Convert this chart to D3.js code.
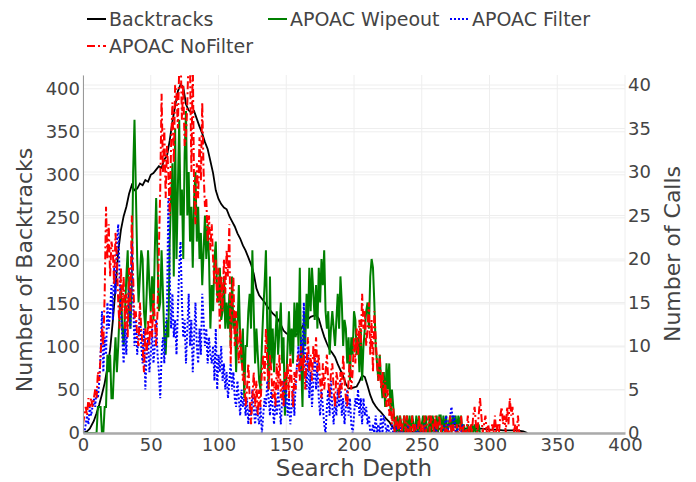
<!DOCTYPE html>
<html>
<head>
<meta charset="utf-8">
<script src="https://cdn.jsdelivr.net/npm/d3@7"></script>
<style>
  body { margin: 0; background: #fff; }
  text { font-family: "DejaVu Sans", sans-serif; fill: #444; }
</style>
</head>
<body>
<div id="chart"></div>
<script>
// Backtracks (left axis), sampled along the search depth
const backtrackDepths = [0,3,5,8,10,12,14,16,18,20,22,24,26,28,30,32,34,36,38,40,42,44,46,48,50,52,54,56,58,60,62,64,66,68,70,72,74,76,78,80,82,84,86,88,90,92,94,96,98,100,102,104,106,108,110,112,114,116,118,120,122,124,126,128,130,132,134,136,138,140,142,144,146,148,150,152,154,156,158,160,162,164,166,168,170,172,174,176,178,180,182,184,186,188,190,192,194,196,198,200,202,204,206,208,210,212,214,216,218,220,222,224,226,228,230,235,240,245,250,255,260,265,270,275,280,285,290,295,300,305,310,315,320,325,328];
const backtracks = [0,2,5,14,23,33,45,58,76,97,130,168,211,236,252,263,278,288,282,284,290,288,294,292,300,302,306,310,308,318,322,340,362,380,397,405,402,382,375,372,374,365,356,348,338,330,316,302,282,272,266,262,260,252,246,240,232,226,218,212,204,196,185,168,160,156,152,147,143,139,136,132,126,119,116,114,114,113,115,119,124,128,132,135,136,137,133,122,112,104,97,93,88,80,73,66,57,52,52,53,54,60,67,65,55,44,36,31,27,24,20,16,13,8,4,2,2,1,2,2,3,6,9,10,6,4,5,5,4,4,3,3,3,2,0];

// Number of calls (right axis), one value per depth starting at depth 0
const wipeout = [
  0,0,0,0,0,0,0,0,0,0,
  0,3,3,3,0,0,3,3,9,7,
  9,4,4,8,11,7,10,14,17,12,
  10,14,18,21,14,12,17,30,36,28,
  20,15,18,21,20,14,12,16,21,17,
  14,18,13,21,27,20,14,15,21,16,
  11,9,13,11,22,27,31,18,35,20,
  28,36,25,28,20,32,37,25,30,22,
  26,19,27,30,22,26,20,23,17,21,
  25,20,24,20,12,17,14,20,22,16,
  15,19,13,14,18,12,15,12,16,10,
  18,12,14,7,12,17,11,8,12,4,
  10,10,14,16,12,21,14,8,12,9,
  6,5,10,14,17,21,12,5,18,8,
  12,7,11,14,9,12,15,8,11,2,
  6,10,14,9,12,8,15,11,15,10,
  19,8,3,14,10,16,12,19,14,19,
  16,13,17,12,19,15,20,17,21,14,
  12,14,9,12,14,12,10,13,16,12,
  18,15,10,13,12,8,11,6,11,9,
  14,13,9,11,7,12,6,10,12,14,
  15,12,18,20,19,15,10,8,6,9,
  6,4,7,3,8,5,8,2,5,3,
  1,0,2,0,2,1,0,2,0,2,
  0,2,0,2,1,0,2,0,2,0,
  1,2,0,2,0,0,2,0,2,1,
  0,2,0,2,2,0,2,0,2,0,
  1,2,0,2,1,2,0,2,1,2,
  0,1,0,0,1,0,0,1,0,1,
  0,0,1,0,0,0,0,0,0,0,
  0,0,0,0,0,0,0,0,0,0,
  0,0,0,0,0,0,0,0,0,0,
  0,0,0,0,0,0
];
const filter = [
  0,0,1,2,1,3,2,3,4,3,
  5,4,6,9,14,7,11,9,15,12,
  14,17,13,19,16,22,24,18,14,11,
  8,12,9,14,17,12,22,15,10,13,
  9,11,14,10,8,12,5,9,11,7,
  9,12,8,10,13,9,7,4,9,11,
  8,12,14,27,18,12,16,11,13,9,
  14,19,22,15,11,13,8,12,16,10,
  13,7,11,15,10,8,12,9,16,13,
  10,12,8,11,9,8,10,6,12,5,
  9,7,10,6,8,5,7,4,6,8,
  5,7,4,3,6,4,2,5,3,4,
  2,4,1,3,2,5,3,1,3,2,
  1,3,0,2,4,3,6,4,2,5,
  3,1,4,2,5,3,1,4,6,3,
  5,2,4,1,3,5,2,6,8,10,
  7,11,9,15,8,5,9,4,7,3,
  6,9,5,8,4,2,5,3,1,0,
  3,5,2,6,3,1,4,2,5,3,
  6,2,4,1,3,5,2,4,1,0,
  2,4,3,5,2,4,1,4,2,3,
  1,2,0,0,1,0,2,0,1,0,
  2,0,2,1,0,1,0,0,1,0,
  0,1,0,0,0,1,0,0,0,0,
  1,0,0,0,0,0,1,0,0,0,
  0,0,1,0,0,0,0,0,0,0,
  1,0,0,0,0,0,0,1,2,0,
  1,2,3,1,2,0,1,0,0,0,
  1,0,0,0,0,0
];
const noFilter = [
  1,2,3,2,4,3,4,3,4,5,
  4,7,6,9,12,10,16,26,20,24,
  18,22,21,17,23,20,15,12,19,14,
  18,12,16,11,19,14,25,18,13,14,
  11,10,15,12,10,7,12,9,13,10,
  14,11,16,13,10,14,21,28,39,30,
  35,27,33,30,25,33,38,31,40,39,
  35,42,44,36,40,33,34,38,44,42,
  30,43,28,24,31,27,34,29,38,30,
  26,27,22,25,21,24,20,17,20,15,
  19,12,18,14,20,16,21,18,24,8,
  16,18,10,14,11,8,12,9,6,7,
  3,5,8,4,1,4,7,3,6,2,
  5,3,7,9,6,12,8,5,9,7,
  4,6,3,8,5,9,4,6,3,7,
  5,8,4,9,6,3,7,5,8,9,
  6,10,7,9,5,8,11,7,9,6,
  10,8,11,7,9,6,4,8,5,7,
  9,6,4,7,8,5,3,7,6,4,
  7,5,9,6,4,3,6,9,5,7,
  11,8,12,9,13,10,16,12,14,10,
  12,15,9,13,7,14,11,8,6,9,
  5,7,4,6,3,5,2,4,1,3,
  0,2,1,0,2,0,1,2,0,2,
  0,1,0,2,0,1,0,0,2,0,
  1,0,2,0,1,2,0,2,1,0,
  2,0,1,2,0,1,0,0,1,0,
  0,2,0,1,0,0,1,0,0,2,
  0,1,0,0,2,0,1,0,2,3,
  1,0,2,4,2,0,1,2,0,1,
  0,0,1,0,2,0,1,0,2,3,
  1,2,0,3,1,4,2,3,0,1,
  0,2,0,0,0,0
];

const xTicks = [0, 50, 100, 150, 200, 250, 300, 350, 400];
const leftTicks = [0, 50, 100, 150, 200, 250, 300, 350, 400];
const rightTicks = [0, 5, 10, 15, 20, 25, 30, 35, 40];

// Chart dimensions
const margin = { top: 75, right: 71, bottom: 49, left: 83 };
const width = 696 - margin.left - margin.right;
const height = 482 - margin.top - margin.bottom;

const svg = d3.select("#chart")
  .append("svg")
  .attr("width", 696)
  .attr("height", 482);

const g = svg.append("g")
  .attr("transform", "translate(" + margin.left + "," + margin.top + ")");

// Scales
const x = d3.scaleLinear().domain([0, 400]).range([0, width]);
const yLeft = d3.scaleLinear().domain([0, 416]).range([height, 0]);
const yRight = d3.scaleLinear().domain([0, 41.15]).range([height, 0]);

// Grid lines
g.append("g").selectAll("line")
  .data(xTicks)
  .enter().append("line")
  .attr("x1", d => x(d)).attr("x2", d => x(d))
  .attr("y1", 0).attr("y2", height)
  .attr("stroke", "#eee");

g.append("g").selectAll("line")
  .data(leftTicks)
  .enter().append("line")
  .attr("x1", 0).attr("x2", width)
  .attr("y1", d => yLeft(d)).attr("y2", d => yLeft(d))
  .attr("stroke", "#eee");

g.append("g").selectAll("line")
  .data(rightTicks)
  .enter().append("line")
  .attr("x1", 0).attr("x2", width)
  .attr("y1", d => yRight(d)).attr("y2", d => yRight(d))
  .attr("stroke", "#eee");

// Clip to plot area
svg.append("defs").append("clipPath")
  .attr("id", "plot-clip")
  .append("rect")
  .attr("width", width)
  .attr("height", height);

const plot = g.append("g").attr("clip-path", "url(#plot-clip)");

const btLine = d3.line()
  .x((d, i) => x(backtrackDepths[i]))
  .y(d => yLeft(d));

const callLine = d3.line()
  .x((d, i) => x(i))
  .y(d => yRight(d));

plot.append("path")
  .datum(backtracks)
  .attr("d", btLine)
  .attr("fill", "none")
  .attr("stroke", "black")
  .attr("stroke-width", 1.8);

plot.append("path")
  .datum(wipeout)
  .attr("d", callLine)
  .attr("fill", "none")
  .attr("stroke", "green")
  .attr("stroke-width", 2);

plot.append("path")
  .datum(filter)
  .attr("d", callLine)
  .attr("fill", "none")
  .attr("stroke", "blue")
  .attr("stroke-width", 2)
  .attr("stroke-dasharray", "2,2");

plot.append("path")
  .datum(noFilter)
  .attr("d", callLine)
  .attr("fill", "none")
  .attr("stroke", "red")
  .attr("stroke-width", 2)
  .attr("stroke-dasharray", "8,3,2,3");

// Axes
const xAxis = d3.axisBottom(x).tickValues(xTicks).tickSize(0).tickPadding(5);
const leftAxis = d3.axisLeft(yLeft).tickValues(leftTicks).tickSize(0).tickPadding(3);
const rightAxis = d3.axisRight(yRight).tickValues(rightTicks).tickSize(0).tickPadding(3);

const gx = g.append("g")
  .attr("transform", "translate(0," + height + ")")
  .call(xAxis);
gx.select(".domain").attr("stroke", "#aaa").attr("stroke-width", 2.5);

const gl = g.append("g").call(leftAxis);
gl.select(".domain").attr("stroke", "#999").attr("stroke-width", 1);

const gr = g.append("g")
  .attr("transform", "translate(" + width + ",0)")
  .call(rightAxis);
gr.select(".domain").remove();

svg.selectAll(".tick text")
  .style("font-family", "DejaVu Sans, sans-serif")
  .style("font-size", "18px")
  .attr("fill", "#444");

// Axis titles
svg.append("text")
  .attr("x", margin.left + width / 2)
  .attr("y", 476)
  .attr("text-anchor", "middle")
  .style("font-size", "23px")
  .text("Search Depth");

svg.append("text")
  .attr("transform", "translate(32,270) rotate(-90)")
  .attr("text-anchor", "middle")
  .style("font-size", "22px")
  .text("Number of Backtracks");

svg.append("text")
  .attr("transform", "translate(680,254) rotate(-90)")
  .attr("text-anchor", "middle")
  .style("font-size", "22px")
  .text("Number of Calls");

// Legend
const legendItems = [
  { name: "Backtracks", color: "black", dash: null, x: 87, y: 19 },
  { name: "APOAC Wipeout", color: "green", dash: null, x: 268, y: 19 },
  { name: "APOAC Filter", color: "blue", dash: "2,2", x: 450, y: 19 },
  { name: "APOAC NoFilter", color: "red", dash: "8,3,2,3", x: 87, y: 46 }
];

const legend = svg.append("g").selectAll("g")
  .data(legendItems)
  .enter().append("g")
  .attr("transform", d => "translate(" + d.x + "," + d.y + ")");

legend.append("line")
  .attr("x1", 0).attr("x2", 19)
  .attr("stroke", d => d.color)
  .attr("stroke-width", 2)
  .attr("stroke-dasharray", d => d.dash);

legend.append("text")
  .attr("x", 22)
  .attr("dy", "0.35em")
  .style("font-size", "19px")
  .text(d => d.name);
</script>
</body>
</html>
